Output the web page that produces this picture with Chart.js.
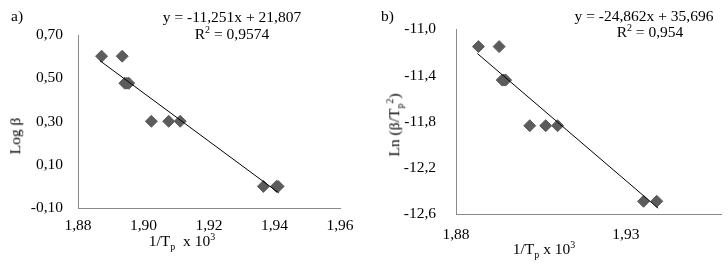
<!DOCTYPE html>
<html>
<head>
<meta charset="utf-8">
<script src="https://cdn.jsdelivr.net/npm/chart.js@4.4.0/dist/chart.umd.min.js"></script>
<style>
  html, body { margin: 0; padding: 0; background: #fff; }
  body { width: 728px; height: 269px; position: relative; overflow: hidden;
         font-family: "Liberation Serif", "Times New Roman", serif; color: #000; }
  .panel { position: absolute; top: 0; width: 364px; height: 269px; }
  .txt { position: absolute; font-size: 15.5px; line-height: 1; white-space: nowrap; }
  .c { transform: translateX(-50%); }
  .rot { transform: translate(-50%, -50%) rotate(-90deg); }
  sub, sup { font-size: 10px; line-height: 0; }
</style>
</head>
<body>
<div class="panel" style="left:0"><canvas id="chartA"></canvas></div>
<div class="panel" style="left:364px"><canvas id="chartB"></canvas></div>

<div class="txt" style="left:11px; top:8px">a)</div>
<div class="txt c" style="left:232px; top:9px">y = -11,251x + 21,807</div>
<div class="txt c" style="left:232px; top:26px">R<sup>2</sup> = 0,9574</div>
<div class="txt rot" style="left:15px; top:136px">Log β</div>
<div class="txt c" style="left:182px; top:233px">1/T<sub>p</sub>&nbsp; x 10<sup>3</sup></div>

<div class="txt" style="left:381px; top:8px">b)</div>
<div class="txt c" style="left:644px; top:8px">y = -24,862x + 35,696</div>
<div class="txt c" style="left:650px; top:24px">R<sup>2</sup> = 0,954</div>
<div class="txt rot" style="left:394px; top:125px">Ln (β/T<sub>p</sub><sup>2</sup>)</div>
<div class="txt c" style="left:544px; top:241px">1/T<sub>p</sub> x 10<sup>3</sup></div>

<script>
// 数据 a) Log β
const xA = [1.8872, 1.8935, 1.8943, 1.8949, 1.8955, 1.9024, 1.9077, 1.9112, 1.9366, 1.9406, 1.9411];
const yA = [0.602, 0.602, 0.477, 0.477, 0.477, 0.301, 0.301, 0.301, 0, 0, 0];
const trendXA = [1.8867, 1.9413];
const trendYA = [0.581, -0.03];
const xTicksA = [1.88, 1.90, 1.92, 1.94, 1.96];
const yTicksA = [-0.10, 0.10, 0.30, 0.50, 0.70];

// 数据 b) Ln(β/Tp²)
const xB = [1.8866, 1.8927, 1.8936, 1.8941, 1.8946, 1.9017, 1.9064, 1.9099, 1.9352, 1.9391];
const yB = [-11.15, -11.15, -11.44, -11.44, -11.44, -11.835, -11.835, -11.835, -12.49, -12.49];
const trendXB = [1.8863, 1.9395];
const trendYB = [-11.21, -12.55];
const xTicksB = [1.88, 1.93];
const yTicksB = [-12.6, -12.2, -11.8, -11.4, -11.0];

const FONT = { family: '"Liberation Serif", "Times New Roman", serif', size: 15.5 };
const AXIS_COLOR = '#8a8a8a';
const POINT_COLOR = '#5c5c5c';

function comma(v, d) {
    return v.toFixed(d).replace('.', ',');
}

function pts(xs, ys) {
    return xs.map((x, i) => ({ x: x, y: ys[i] }));
}

function makeChart(id, cfg) {
    const ctx = document.getElementById(id).getContext('2d');
    return new Chart(ctx, {
        type: 'scatter',
        data: {
            datasets: [{
                data: pts(cfg.xs, cfg.ys),
                pointStyle: 'rectRot',
                pointRadius: 6,
                pointBorderWidth: 1,
                pointBackgroundColor: POINT_COLOR,
                pointBorderColor: POINT_COLOR,
                order: 2
            }, {
                data: pts(cfg.tx, cfg.ty),
                showLine: true,
                pointRadius: 0,
                borderColor: '#000',
                borderWidth: 1,
                order: 1
            }]
        },
        options: {
            responsive: true,
            maintainAspectRatio: false,
            animation: false,
            layout: { padding: cfg.padding },
            plugins: { legend: { display: false }, tooltip: { enabled: false } },
            scales: {
                x: {
                    type: 'linear',
                    min: cfg.xTicks[0],
                    max: cfg.xMax,
                    afterBuildTicks: axis => { axis.ticks = cfg.xTicks.map(v => ({ value: v })); },
                    afterFit: s => { s.height = cfg.xHeight; },
                    grid: { drawOnChartArea: false, drawTicks: false },
                    border: { display: true, color: AXIS_COLOR, width: 1 },
                    ticks: {
                        color: '#000', font: FONT, padding: cfg.xPad, maxRotation: 0,
                        callback: v => comma(v, 2)
                    }
                },
                y: {
                    type: 'linear',
                    min: cfg.yTicks[0],
                    max: cfg.yTicks[cfg.yTicks.length - 1],
                    afterBuildTicks: axis => { axis.ticks = cfg.yTicks.map(v => ({ value: v })); },
                    afterFit: s => { s.width = cfg.yWidth; },
                    grid: { drawOnChartArea: false, drawTicks: false },
                    border: { display: true, color: AXIS_COLOR, width: 1 },
                    ticks: {
                        color: '#000', font: FONT, padding: cfg.yPad,
                        callback: v => comma(v, cfg.yDec)
                    }
                }
            }
        }
    });
}

makeChart('chartA', {
    xs: xA, ys: yA, tx: trendXA, ty: trendYA,
    xTicks: xTicksA, yTicks: yTicksA, xMax: 1.96, yDec: 2,
    padding: { left: 0, right: 24, top: 35, bottom: 0 },
    xHeight: 61, yWidth: 78, xPad: 9, yPad: 15
});

makeChart('chartB', {
    xs: xB, ys: yB, tx: trendXB, ty: trendYB,
    xTicks: xTicksB, yTicks: yTicksB, xMax: 1.958, yDec: 1,
    padding: { left: 0, right: 6, top: 25, bottom: 0 },
    xHeight: 55, yWidth: 92, xPad: 12, yPad: 20
});
</script>
</body>
</html>
